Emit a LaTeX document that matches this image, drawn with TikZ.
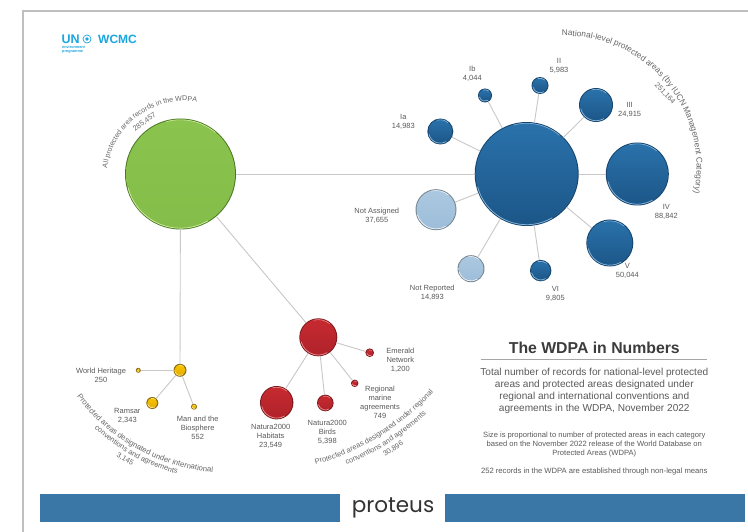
\documentclass[tikz,border=0pt]{standalone}
\usepackage{fontspec}
\setmainfont{Liberation Sans}
\newfontfamily\logofont{Poppins}
\usetikzlibrary{calc,decorations.text}
\definecolor{txt}{HTML}{5A5A5A}
\definecolor{arctxt}{HTML}{666666}
\definecolor{titletxt}{HTML}{3C3C3C}
\definecolor{linkc}{HTML}{C8C8C8}
\definecolor{barc}{HTML}{3A76A6}
\definecolor{logoc}{HTML}{1BA6E0}
\definecolor{bT}{HTML}{2A72AB}\definecolor{bB}{HTML}{1C5688}\definecolor{bD}{HTML}{16456E}\definecolor{bH}{HTML}{86B4D8}
\definecolor{gT}{HTML}{8AC44E}\definecolor{gB}{HTML}{84BD49}\definecolor{gD}{HTML}{4C7A24}\definecolor{gH}{HTML}{CDE9A0}
\definecolor{lT}{HTML}{ABC8E0}\definecolor{lB}{HTML}{9DBDD9}\definecolor{lD}{HTML}{77868F}\definecolor{lH}{HTML}{E8F0F7}
\definecolor{rT}{HTML}{C62A30}\definecolor{rB}{HTML}{B0222A}\definecolor{rD}{HTML}{7E1A1F}\definecolor{rH}{HTML}{E78A8A}
\definecolor{yT}{HTML}{F8C400}\definecolor{yB}{HTML}{E4AC00}\definecolor{yD}{HTML}{8A6B10}\definecolor{yH}{HTML}{FFE680}
\newcommand\ArcText[7]{%
  \path[decorate,decoration={text along path,text align=center,
    text={|\fontsize{#7}{#7}\selectfont\color{arctxt}|#6}}]
    (#1,#2) ++(#4:#3 pt) arc[start angle=#4,end angle=#5,radius=#3 pt];}
\tikzset{
  ball/.style n args={4}{circle,inner sep=0pt,outer sep=0pt,draw=none,fill=#1,
    path picture={%
      \pgfpointdiff{\pgfpointanchor{path picture bounding box}{center}}{\pgfpointanchor{path picture bounding box}{east}}%
      \pgfgetlastxy{\bx}{\by}%
      \coordinate (bc) at (path picture bounding box.center);
      \shade[top color=#3,bottom color=#4] (bc) circle (\bx-1pt);
      \draw[#2,line width=0.75pt,line cap=round] ($(bc)+(195:\bx-1.3pt)$) arc[start angle=195,end angle=300,radius=\bx-1.3pt];
      \draw[#2,line width=0.6pt,line cap=round] ($(bc)+(50:\bx-1.3pt)$) arc[start angle=50,end angle=105,radius=\bx-1.3pt];
    }},
  blueb/.style={ball={bD}{bH}{bT}{bB},minimum size=#1 pt},
  greenb/.style={ball={gD}{gH}{gT}{gB},minimum size=#1 pt},
  lightb/.style={ball={lD}{lH}{lT}{lB},minimum size=#1 pt},
  redb/.style={ball={rD}{rH}{rT}{rB},minimum size=#1 pt},
  yellowb/.style={ball={yD}{yH}{yT}{yB},minimum size=#1 pt},
  lbl/.style={align=center,text=txt,font=\fontsize{7.5}{8.9}\selectfont,inner sep=0pt},
  link/.style={draw=linkc,line width=0.9pt},
  rot/.style={text=arctxt,font=\fontsize{7.3}{8}\selectfont,inner sep=0pt},
  bar/.style={fill=barc,draw=none},
}
\begin{document}
\begin{tikzpicture}[x=1pt,y=-1pt]
\useasboundingbox (0,0) rectangle (748,532);
\fill[white] (0,0) rectangle (748,532);
% frame
\coordinate (fa) at (23,532);\coordinate (fb) at (23,11);\coordinate (fc) at (748,11);
\draw[color=black!25,line width=1.5pt] (fa) -- (fb) -- (fc);
% logo
\node[anchor=west,inner sep=0pt,text=logoc,font=\bfseries\fontsize{12.5}{12.5}\selectfont] (logoUN) at (61.5,39) {UN};
\node[circle,draw=logoc,line width=0.7pt,minimum size=8pt,inner sep=0pt] (logoE) at (87,39) {};
\fill[logoc] (87,39) circle (1.8pt);
\node[anchor=west,inner sep=0pt,text=logoc,font=\bfseries\fontsize{12}{12}\selectfont] (logoW) at (98,39) {WCMC};
\node[anchor=north west,inner sep=0pt,align=left,text=logoc,font=\bfseries\fontsize{3.8}{4.2}\selectfont] (logoP) at (62,45.5) {environment\\programme};
% circles
\node[greenb=111] (all) at (180.5,174) {};
\node[blueb=104] (nat) at (526.7,174) {};
\node[blueb=26] (ia) at (440.3,131.5) {};
\node[blueb=14] (ib) at (485,95.5) {};
\node[blueb=17] (ii) at (540,85.5) {};
\node[blueb=34] (iii) at (596,105) {};
\node[blueb=63] (iv) at (637.3,174) {};
\node[blueb=47] (v) at (609.8,243) {};
\node[blueb=21.4] (vi) at (540.7,270.6) {};
\node[lightb=41] (na) at (436,209.7) {};
\node[lightb=27] (nr) at (471,268.7) {};
\node[yellowb=13] (intl) at (180,370.3) {};
\node[yellowb=5] (wh) at (138.3,370.3) {};
\node[yellowb=12] (ram) at (152.3,403) {};
\node[yellowb=6] (mab) at (194,406.7) {};
\node[redb=38] (reg) at (318.3,337.3) {};
\node[redb=8.6] (eme) at (369.7,352.7) {};
\node[redb=7.4] (rma) at (354.7,383.3) {};
\node[redb=16.6] (bir) at (325.3,403) {};
\node[redb=33.4] (hab) at (276.7,402.7) {};
% connectors
\foreach \a/\b in {all/nat,all/intl,all/reg,nat/ia,nat/ib,nat/ii,nat/iii,nat/iv,nat/v,nat/vi,nat/na,nat/nr,intl/wh,intl/ram,intl/mab,reg/eme,reg/rma,reg/bir,reg/hab}
  \draw[link] (\a) -- (\b);
% labels
\node[lbl] (tIa) at (403.3,122) {Ia\\14,983};
\node[lbl] (tIb) at (472.3,74) {Ib\\4,044};
\node[lbl] (tII) at (559,66.2) {II\\5,983};
\node[lbl] (tIII) at (629.7,110) {III\\24,915};
\node[lbl] (tIV) at (666.3,211.7) {IV\\88,842};
\node[lbl] (tV) at (627.3,270.7) {V\\50,044};
\node[lbl] (tVI) at (555.3,293.8) {VI\\9,805};
\node[lbl] (tNR) at (432.3,292.5) {Not Reported\\14,893};
\node[lbl] (tNA) at (376.8,216) {Not Assigned\\37,655};
\node[lbl] (tWH) at (101,375) {World Heritage\\250};
\node[lbl] (tRam) at (127.3,416) {Ramsar\\2,343};
\node[lbl] (tMab) at (197.7,428) {Man and the\\Biosphere\\552};
\node[lbl] (tHab) at (270.7,436.7) {Natura2000\\Habitats\\23,549};
\node[lbl] (tBir) at (327.3,432.3) {Natura2000\\Birds\\5,398};
\node[lbl] (tEme) at (400.3,360) {Emerald\\Network\\1,200};
\node[lbl] (tRma) at (380,402.3) {Regional\\marine\\agreements\\749};
% curved labels
\ArcText{184.5}{179}{78}{185}{68}{All protected area records in the WDPA}{7.1}
\node[rot,rotate=36] (c1) at (144.5,122) {285,457};
\ArcText{565.6}{167}{131}{100}{-20}{National-level protected areas (by IUCN Management Category)}{8.3}
\node[rot,rotate=-47] (c2) at (665,93.5) {251,164};
\ArcText{228.9}{282.9}{190}{212}{270}{Protected areas designated under international}{7.7}
\ArcText{228.9}{282.9}{198}{222}{260}{conventions and agreements}{7.4}
\node[rot,rotate=-31] (c3) at (125,459.3) {3,145};
\ArcText{250}{225}{248.2}{-79}{-38}{Protected areas designated under regional}{7.4}
\ArcText{250}{225}{258.5}{-72}{-43}{conventions and agreements}{7.4}
\node[rot,rotate=33] (c4) at (393.3,449) {30,896};
% title block
\node[inner sep=0pt,text=titletxt,font=\bfseries\fontsize{15.8}{17}\selectfont] (title) at (594.3,347.7) {The WDPA in Numbers};
\coordinate (ra) at (480.7,359);\coordinate (rb) at (707.3,359);
\draw[color=black!35,line width=0.7pt] (ra) -- (rb);
\node[inner sep=0pt,align=center,text=txt,font=\fontsize{10.1}{12.2}\selectfont] (para) at (594.3,391) {Total number of records for national-level protected\\areas and protected areas designated under\\regional and international conventions and\\agreements in the WDPA, November 2022};
\node[inner sep=0pt,align=center,text=txt,font=\fontsize{7.6}{9.2}\selectfont] (size) at (594.3,444.5) {Size is proportional to number of protected areas in each category\\based on the November 2022 release of the World Database on\\Protected Areas (WDPA)};
\node[inner sep=0pt,text=txt,font=\fontsize{7.65}{9}\selectfont] (nonleg) at (594.3,472) {252 records in the WDPA are established through non-legal means};
% footer
\fill[bar] (40,494.3) rectangle (340,522);
\fill[bar] (444.7,494.3) rectangle (745,522);
\node[inner sep=0pt,text=black!80,font=\logofont\fontsize{21.5}{22}\selectfont] (prot) at (393,508) {proteus};
\end{tikzpicture}
\end{document}
